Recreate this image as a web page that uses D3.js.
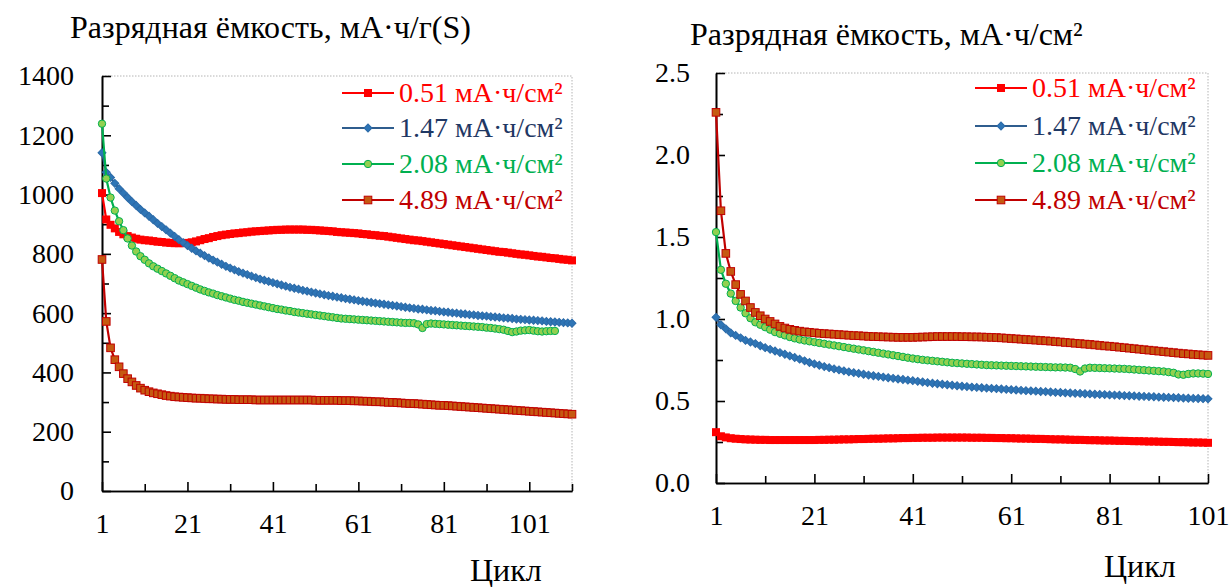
<!DOCTYPE html>
<html>
<head>
<meta charset="utf-8">
<script src="https://cdn.jsdelivr.net/npm/d3@7/dist/d3.min.js"></script>
<style>
body{margin:0;background:#fff}
</style>
</head>
<body>
<svg id="chart" width="1232" height="587"></svg>
<script>
// legend names (same order in both panels)
var seriesNames = ["0.51 мА·ч/см²","1.47 мА·ч/см²","2.08 мА·ч/см²","4.89 мА·ч/см²"]

// left panel: capacity per gram of S, one value per cycle starting at cycle 1
var capL051 = [1005,916,898,886,874,866,860,855,851,848,
    846,845,843,841,840,838,837,836,836,836,
    837,839,842,846,850,853,857,860,863,865,
    867,869,870,872,873,875,876,877,878,879,
    880,881,881,882,882,882,882,882,881,881,
    880,879,878,877,876,874,873,872,871,870,
    869,867,866,864,863,861,860,858,856,854,
    852,850,848,846,845,843,841,839,837,835,
    833,831,829,827,825,823,821,819,817,815,
    813,811,809,807,806,804,802,800,798,797,
    795,793,791,790,788,786,785,783,781,780,778]
var capL147 = [1141,1075,1058,1038,1020,1005,990,976,963,950,
    938,927,915,903,892,881,870,859,848,838,
    828,819,810,802,794,786,779,772,765,758,
    752,746,740,735,730,725,720,715,711,707,
    703,699,695,691,687,684,681,677,674,671,
    668,665,662,659,657,654,652,649,647,645,
    642,640,638,636,634,632,630,628,626,624,
    622,620,618,616,614,613,611,609,608,606,
    604,603,601,600,598,597,595,594,592,591,
    590,588,587,586,584,583,582,580,579,578,
    577,576,575,574,572,571,570,569,568,567,566]
var capL208 = [1239,1054,990,946,910,880,852,828,808,792,
    780,768,758,750,742,734,726,718,710,704,
    698,692,686,680,675,670,666,661,657,653,
    649,645,642,638,635,632,629,626,623,620,
    617,614,612,609,607,604,602,600,598,596,
    594,592,590,588,586,584,582,581,580,579,
    578,577,576,575,574,573,572,571,570,569,
    568,567,567,566,562,550,563,565,564,563,
    562,561,560,559,558,557,556,555,554,553,
    551,550,548,546,544,540,536,538,541,542,
    543,541,539,538,539,540,540]
var capL489 = [781,572,483,443,419,396,379,368,356,347,
    340,335,331,328,325,322,320,318,317,316,
    315,314,313,313,312,311,311,310,310,309,
    309,309,308,308,308,308,307,307,307,307,
    307,307,307,307,307,307,307,307,307,307,
    306,306,306,306,306,306,305,305,305,304,
    304,303,303,302,301,301,300,299,299,298,
    297,296,295,295,294,293,292,291,290,289,
    289,288,287,286,285,284,283,282,281,280,
    279,278,277,276,275,274,273,272,271,270,
    269,268,267,266,265,264,263,262,261,260,259]

// right panel: capacity per cm2
var capR051 = [0.310,0.285,0.278,0.273,0.270,0.268,0.266,0.265,0.264,0.263,
    0.263,0.262,0.262,0.262,0.262,0.262,0.262,0.262,0.262,0.262,
    0.262,0.263,0.263,0.264,0.264,0.265,0.266,0.266,0.267,0.268,
    0.268,0.269,0.270,0.270,0.271,0.272,0.272,0.273,0.274,0.274,
    0.275,0.275,0.276,0.276,0.276,0.277,0.277,0.277,0.277,0.277,
    0.277,0.277,0.276,0.276,0.276,0.275,0.275,0.274,0.274,0.273,
    0.273,0.272,0.271,0.271,0.270,0.269,0.269,0.268,0.267,0.266,
    0.266,0.265,0.264,0.263,0.263,0.262,0.261,0.261,0.260,0.259,
    0.259,0.258,0.257,0.257,0.256,0.255,0.255,0.254,0.253,0.253,
    0.252,0.251,0.251,0.250,0.249,0.249,0.248,0.247,0.247,0.246,
    0.245]
var capR147 = [1.010,0.965,0.940,0.915,0.900,0.885,0.870,0.860,0.850,0.837,
    0.825,0.815,0.805,0.795,0.785,0.775,0.765,0.755,0.745,0.735,
    0.726,0.718,0.710,0.703,0.696,0.690,0.684,0.678,0.673,0.668,
    0.663,0.658,0.654,0.650,0.646,0.642,0.638,0.634,0.631,0.627,
    0.624,0.620,0.616,0.612,0.608,0.605,0.602,0.599,0.596,0.593,
    0.590,0.588,0.585,0.583,0.581,0.579,0.577,0.575,0.573,0.571,
    0.569,0.567,0.565,0.563,0.562,0.560,0.558,0.557,0.555,0.553,
    0.552,0.550,0.549,0.547,0.546,0.544,0.543,0.541,0.540,0.539,
    0.537,0.536,0.535,0.533,0.532,0.531,0.529,0.528,0.527,0.526,
    0.524,0.523,0.522,0.521,0.520,0.518,0.517,0.516,0.515,0.514,
    0.513]
var capR208 = [1.530,1.300,1.215,1.155,1.110,1.070,1.035,1.005,0.980,0.965,
    0.950,0.935,0.920,0.910,0.900,0.890,0.882,0.875,0.869,0.864,
    0.859,0.854,0.849,0.844,0.839,0.834,0.829,0.824,0.819,0.814,
    0.809,0.804,0.799,0.794,0.789,0.784,0.779,0.774,0.769,0.764,
    0.759,0.755,0.751,0.748,0.745,0.742,0.739,0.736,0.733,0.731,
    0.729,0.727,0.725,0.723,0.721,0.719,0.718,0.717,0.716,0.715,
    0.714,0.713,0.712,0.711,0.710,0.709,0.708,0.707,0.706,0.705,
    0.705,0.704,0.703,0.695,0.680,0.698,0.703,0.702,0.701,0.700,
    0.699,0.698,0.697,0.696,0.694,0.692,0.690,0.688,0.686,0.684,
    0.682,0.680,0.676,0.672,0.662,0.660,0.665,0.668,0.668,0.667,
    0.665]
var capR489 = [2.260,1.660,1.400,1.290,1.210,1.150,1.110,1.070,1.040,1.020,
    1.000,0.985,0.970,0.955,0.945,0.937,0.931,0.926,0.922,0.919,
    0.916,0.913,0.911,0.909,0.907,0.905,0.903,0.901,0.899,0.898,
    0.896,0.894,0.893,0.892,0.891,0.890,0.889,0.888,0.888,0.888,
    0.888,0.889,0.890,0.891,0.892,0.893,0.893,0.893,0.893,0.893,
    0.892,0.892,0.891,0.891,0.890,0.889,0.888,0.887,0.885,0.883,
    0.881,0.879,0.877,0.875,0.873,0.871,0.869,0.867,0.865,0.862,
    0.860,0.857,0.855,0.852,0.850,0.847,0.845,0.842,0.839,0.836,
    0.834,0.831,0.828,0.825,0.822,0.819,0.816,0.813,0.810,0.807,
    0.804,0.801,0.798,0.795,0.792,0.789,0.787,0.784,0.782,0.780,
    0.778]

// axis ticks
var leftYTicks = [0,200,400,600,800,1000,1200,1400]
var leftYMinor = [100,300,500,700,900,1100,1300]
var leftXTicks = [1,21,41,61,81,101]
var leftXMinor = [11,31,51,71,91,111]
var rightYTicks = [0,0.5,1.0,1.5,2.0,2.5]
var rightYMinor = [0.25,0.75,1.25,1.75,2.25]
var rightXTicks = [1,21,41,61,81,101]
var rightXMinor = [11,31,51,71,91]

// look of each series (Excel-like)
var look = [
    {line:"#FF0000", fill:"#FF0000", stroke:"#FF0000", shape:"square", size:8, text:"#FF0000"},
    {line:"#2F5D8E", fill:"#2E75B6", stroke:"#2B6AA8", shape:"diamond", size:5.6, text:"#1F3864"},
    {line:"#00B050", fill:"#92D050", stroke:"#00B050", shape:"circle", size:7.4, text:"#00B050"},
    {line:"#C00000", fill:"#C55A11", stroke:"#C00000", shape:"square", size:7.6, text:"#C00000"}
]
var fontSize = "28px"
var titleSize = "32px"
var serif = "Liberation Serif"

var svg = d3.select("#chart")
svg.append("rect").attr("width",1232).attr("height",587).attr("fill","#fff")

function marker(g, s, cx, cy){
    var m
    if(s.shape=="circle"){
        m = g.append("circle").attr("cx",cx).attr("cy",cy).attr("r",s.size/2)
    }else{
        m = g.append("rect").attr("x",-s.size/2).attr("y",-s.size/2)
            .attr("width",s.size).attr("height",s.size)
            .attr("transform","translate("+cx+","+cy+")"+(s.shape=="diamond"?" rotate(45)":""))
    }
    m.attr("fill",s.fill).attr("stroke",s.stroke).attr("stroke-width",s.shape=="square"&&s.fill==s.stroke?0:1)
}

function label(g, x, y, txt, color, size){
    return g.append("text").attr("x",x).attr("y",y)
        .style("font-family",serif).style("font-size",size||fontSize)
        .attr("fill",color).text(txt)
}

function drawPanel(p){
    var x = d3.scaleLinear().domain(p.xDomain).range([p.left,p.right])
    var y = d3.scaleLinear().domain(p.yDomain).range([p.bottom,p.top])
    var g = svg.append("g")

    // dotted frame on top and right
    g.append("path")
        .attr("d","M"+p.left+","+p.top+"H"+p.right+"V"+p.bottom)
        .attr("fill","none").attr("stroke","#B4B4B4").attr("stroke-width",1)
        .attr("stroke-dasharray","1.5,1.5")

    // minor ticks (no labels)
    g.append("g").attr("transform","translate("+p.left+",0)")
        .call(d3.axisLeft(y).tickValues(p.yMinor).tickSizeInner(-7).tickSizeOuter(0).tickFormat(""))
    g.append("g").attr("transform","translate(0,"+p.bottom+")")
        .call(d3.axisBottom(x).tickValues(p.xMinor).tickSizeInner(-7).tickSizeOuter(0).tickFormat(""))

    g.append("g").attr("transform","translate("+p.left+",0)")
        .call(d3.axisLeft(y).tickValues(p.yTicks).tickSizeInner(-9).tickSizeOuter(0)
            .tickPadding(p.yPad).tickFormat(p.yFormat))
    g.append("g").attr("transform","translate(0,"+p.bottom+")")
        .call(d3.axisBottom(x).tickValues(p.xTicks).tickSizeInner(-9).tickSizeOuter(0)
            .tickPadding(p.xPad).tickFormat(d3.format("d")))
    g.selectAll(".domain").attr("stroke","#000").attr("stroke-width",1.6)
    g.selectAll(".tick line").attr("stroke","#000").attr("stroke-width",1.6)
    g.selectAll(".tick text").style("font-family",serif).style("font-size",fontSize).attr("fill","#000")

    // series
    p.series.forEach(function(vals,k){
        var s = look[k]
        var sg = g.append("g")
        sg.append("path").datum(vals)
            .attr("d",d3.line().x(function(d,i){return x(i+1)}).y(function(d){return y(d)}))
            .attr("fill","none").attr("stroke",s.line).attr("stroke-width",2.2)
        vals.forEach(function(v,i){ marker(sg, s, x(i+1), y(v)) })
    })

    // legend
    seriesNames.forEach(function(name,k){
        var s = look[k], ly = p.legendY[k]
        g.append("line").attr("x1",p.legendX).attr("x2",p.legendX+52)
            .attr("y1",ly).attr("y2",ly).attr("stroke",s.line).attr("stroke-width",2.2)
        marker(g, s, p.legendX+26, ly)
        label(g, p.legendX+57, ly, name, s.text).attr("dy","0.33em")
    })

    // titles
    label(g, p.titleX, p.titleY, p.title, "#000", titleSize)
    label(g, p.cycleX, p.cycleY, "Цикл", "#000", titleSize)
}

drawPanel({
    left:102, right:572, top:76, bottom:491,
    xDomain:[1,111], yDomain:[0,1400],
    yTicks:leftYTicks, yMinor:leftYMinor, xTicks:leftXTicks, xMinor:leftXMinor,
    yFormat:d3.format("d"), yPad:28, xPad:22,
    series:[capL051,capL147,capL208,capL489],
    legendX:342, legendY:[93,128,164,200],
    title:"Разрядная ёмкость, мА·ч/г(S)", titleX:70, titleY:38,
    cycleX:470, cycleY:581
})
drawPanel({
    left:716, right:1208, top:73, bottom:483,
    xDomain:[1,101], yDomain:[0,2.5],
    yTicks:rightYTicks, yMinor:rightYMinor, xTicks:rightXTicks, xMinor:rightXMinor,
    yFormat:d3.format(".1f"), yPad:26, xPad:22,
    series:[capR051,capR147,capR208,capR489],
    legendX:975, legendY:[88,126,163,200],
    title:"Разрядная ёмкость, мА·ч/см²", titleX:690, titleY:45,
    cycleX:1104, cycleY:577
})
</script>
</body>
</html>
